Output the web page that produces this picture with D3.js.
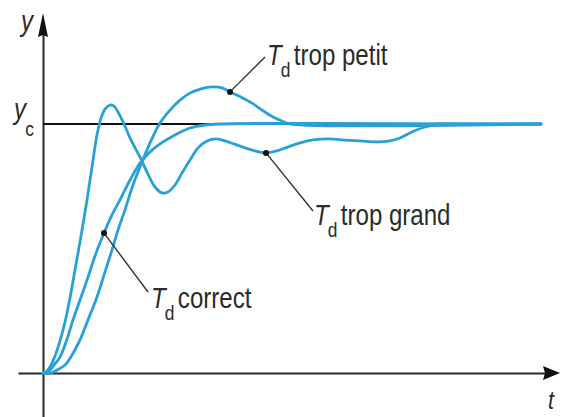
<!DOCTYPE html>
<html>
<head>
<meta charset="utf-8">
<script src="https://cdn.jsdelivr.net/npm/d3@7"></script>
<style>
  html, body { margin: 0; padding: 0; background: #fff; }
  svg { display: block; }
</style>
</head>
<body>
<svg id="chart" width="563" height="417"></svg>
<script>
// Step responses of a PID loop for three derivative times Td.
// t: time (arbitrary units 0..100), y: output in % of the setpoint yc.
const tdTropGrand = [
  [0, 0], [0.6, 0.4], [1.4, 2.4], [2.4, 6.8], [3.4, 12.9], [4.4, 20.5], [5.4, 30.1],
  [6.4, 41.4], [7.6, 55.0], [8.8, 69.5], [9.8, 82.7], [10.8, 95.6], [11.6, 102.4],
  [12.4, 106.0], [13.4, 107.6], [14.2, 107.2], [15, 104.8], [16.2, 100], [17.4, 94.4],
  [19.4, 86.7], [21, 79.9], [22.4, 74.7], [23.8, 72.3], [25, 72.7], [26.4, 75.5],
  [27.8, 80.3], [29.4, 85.5], [31, 90.4], [32.8, 93.2], [34.6, 94.0], [36.4, 93.2],
  [38.2, 92.0], [40.4, 90.4], [42.4, 89.2], [44.6, 88.4], [46.8, 89.2], [49, 90.8],
  [51.4, 92.4], [54, 93.6], [57.4, 94.0], [59.8, 93.6], [63.4, 93.2], [67, 92.8],
  [69.4, 93.2], [71.4, 94.4], [74.2, 97.2], [76.4, 98.8], [78.8, 100], [81.4, 100],
  [99.6, 100]
];
const tdCorrect = [
  [0, 0], [1, 0.4], [2.2, 3.2], [3.4, 6.4], [4.6, 12.4], [6, 21.3], [7.4, 29.3],
  [8.8, 37.3], [10.4, 47.0], [12.2, 56.2], [13.8, 63.5], [15.4, 69.5], [17.4, 77.5],
  [19.4, 84.3], [21.4, 88.8], [23.4, 92.0], [26.4, 95.6], [29.4, 98.4], [32.4, 99.6],
  [35.4, 100], [99.6, 100]
];
const tdTropPetit = [
  [0, 0], [1.4, 0], [2.8, 1.2], [4.4, 3.2], [5.8, 7.2], [7.4, 13.3], [9, 21.3],
  [10.8, 30.5], [12.4, 40.6], [13.8, 49.4], [15, 57.4], [16.4, 65.5], [17.8, 74.3],
  [19.4, 82.7], [21.4, 92.4], [23.4, 100.4], [25.4, 105.6], [27.4, 109.6], [29.4, 112.4],
  [31.6, 114.1], [33.8, 114.9], [35.8, 114.5], [37.4, 112.9], [39.6, 110.8], [41.8, 108.4],
  [43.8, 105.6], [46, 102.8], [47.8, 101.2], [49.6, 100], [99.6, 100]
];
const setpoint = 100;
const labelNames = ["trop petit", "trop grand", "correct"];
const labelTimes = [37.4, 44.6, 12.2];   // instant on each curve the label points at

const svg = d3.select("#chart");
const H = 417;
const blue = "#29a0d8";
const ink = "#2b2b2b";
const font = "'Liberation Sans', Arial, sans-serif";
const narrow = 0.83;   // horizontal squeeze for a condensed look

const x = d3.scaleLinear().domain([0, 100]).range([43, 543]);
const y = d3.scaleLinear().domain([0, 100]).range([373, 124]);

// axes: plain lines with arrowheads, no ticks
const xAxisScale = d3.scaleLinear().range([18, 548]);
svg.append("g")
  .attr("transform", `translate(0,${y(0)})`)
  .call(d3.axisBottom(xAxisScale).tickValues([]).tickSizeOuter(0))
  .call(g => g.select(".domain").attr("stroke", ink).attr("stroke-width", 2));
const yAxisScale = d3.scaleLinear().range([H, 30]);
svg.append("g")
  .attr("transform", `translate(${x(0)},0)`)
  .call(d3.axisLeft(yAxisScale).tickValues([]).tickSizeOuter(0))
  .call(g => g.select(".domain").attr("stroke", ink).attr("stroke-width", 2));

svg.append("path")
  .attr("d", `M560,${y(0)}L543,${y(0) - 7}L545,${y(0)}L543,${y(0) + 7}Z`)
  .attr("fill", "#111");
svg.append("path")
  .attr("d", `M${x(0)},13L${x(0) + 5},37L${x(0)},35L${x(0) - 5},37Z`)
  .attr("fill", "#111");

// setpoint line
svg.append("line")
  .attr("x1", x(0)).attr("x2", x(99.6))
  .attr("y1", y(setpoint)).attr("y2", y(setpoint))
  .attr("stroke", "#111").attr("stroke-width", 2);

// response curves
const line = d3.line()
  .x(d => x(d[0]))
  .y(d => y(d[1]))
  .curve(d3.curveCatmullRom.alpha(0.5));

const series = [tdTropPetit, tdTropGrand, tdCorrect];
svg.append("g").selectAll("path")
  .data(series)
  .join("path")
  .attr("d", line)
  .attr("fill", "none")
  .attr("stroke", blue)
  .attr("stroke-width", 2.8)
  .attr("stroke-linejoin", "round")
  .attr("stroke-linecap", "round");

// text with an optional subscript, squeezed horizontally
function label(g, px, py, main, sub, subDy, rest, size) {
  const fs = size || 29;
  const t = g.append("text")
    .attr("transform", `translate(${px},${py}) scale(${narrow},1)`)
    .attr("font-family", font)
    .attr("fill", ink);
  t.append("tspan")
    .attr("font-size", fs)
    .attr("font-style", "italic")
    .text(main);
  if (sub) {
    t.append("tspan")
      .attr("font-size", 21)
      .attr("dx", -1)
      .attr("dy", subDy)
      .text(sub);
  }
  if (rest) {
    t.append("tspan")
      .attr("font-size", fs)
      .attr("dx", 4)
      .attr("dy", -subDy)
      .text(rest);
  }
  return t;
}

const labels = svg.append("g");
label(labels, 21, 31, "y");
label(labels, 14, 119, "y", "c", 17);
label(labels, 548, 409, "t", null, 0, null, 26);

// annotation leaders + texts
const leaderEnds = [[265, 57], [313, 211], [148, 292]];
const textPos = [[267, 65], [314, 225], [151, 308]];

series.forEach((s, i) => {
  const p = s.find(d => d[0] === labelTimes[i]);
  const px = x(p[0]), py = y(p[1]);
  labels.append("line")
    .attr("x1", px).attr("y1", py)
    .attr("x2", leaderEnds[i][0]).attr("y2", leaderEnds[i][1])
    .attr("stroke", "#333").attr("stroke-width", 1.4);
  labels.append("circle")
    .attr("cx", px).attr("cy", py).attr("r", 3)
    .attr("fill", "#111");
  label(labels, textPos[i][0], textPos[i][1], "T", "d", 12, labelNames[i]);
});
</script>
</body>
</html>
